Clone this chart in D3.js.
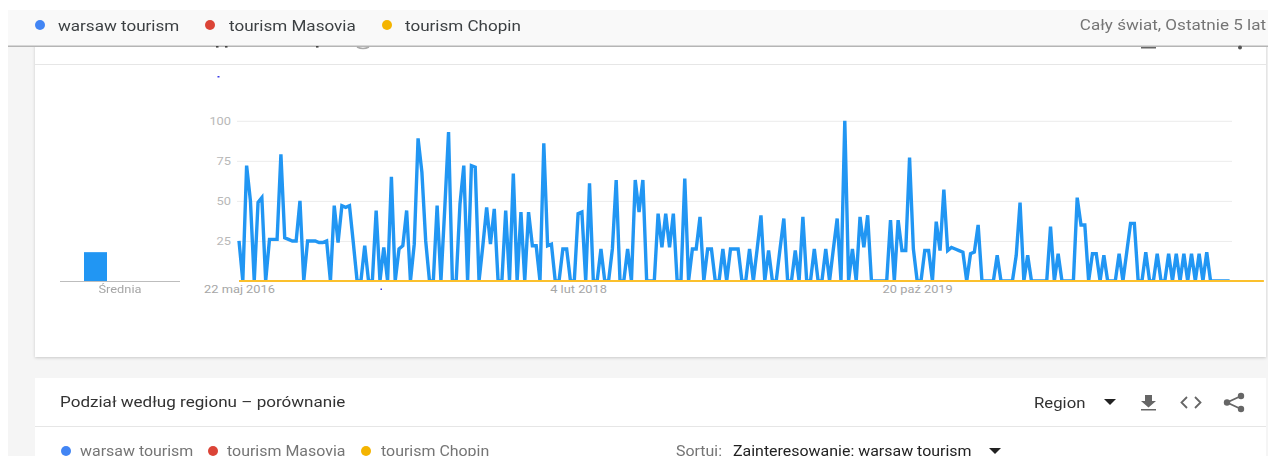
<!DOCTYPE html>
<html><head><meta charset="utf-8">
<script src="https://cdn.jsdelivr.net/npm/d3@7/dist/d3.min.js"></script>
<style>
html,body{margin:0;padding:0;background:#fff;overflow:hidden}
svg{display:block;font-family:Roboto,sans-serif}
</style></head><body><svg id="c" width="1268" height="456"></svg>
<script>
const seriesNames=["warsaw tourism","tourism Masovia","tourism Chopin"];
const seriesColors=["#4285f4","#db4437","#f4b400"];
const warsaw=[25,0,72,50,0,49,52,0,26,26,26,79,27,26,25,25,50,0,25,25,25,24,24,25,0,47,24,47,46,47,24,0,0,22,0,0,44,0,21,0,65,0,20,22,44,0,23,89,68,25,0,0,47,0,45,93,0,0,48,72,0,72,71,0,22,46,23,45,0,0,44,0,67,0,43,0,43,22,22,0,86,22,23,0,0,20,20,0,0,42,43,0,61,0,0,20,0,0,20,63,0,0,20,0,63,43,63,0,0,0,42,21,42,21,42,0,0,64,0,20,20,40,0,20,20,0,0,20,0,20,20,20,0,0,20,0,20,41,0,19,0,0,20,39,0,0,19,0,40,0,0,20,0,0,20,0,20,39,0,100,0,20,0,40,21,41,0,0,0,0,0,38,0,38,19,19,77,20,0,0,19,19,0,37,19,57,19,21,20,19,18,0,17,18,35,0,0,0,0,16,0,0,0,0,16,49,0,16,0,0,0,0,0,34,0,17,0,0,0,0,52,35,35,0,17,17,0,16,0,0,0,17,0,18,36,36,0,0,18,0,0,17,0,0,17,0,17,0,17,0,17,0,17,0,18,0,0,0,0,0,0];
const masovia=[0,0,0,0,0,0,0,0,0,0,0,0,0,0,0,0,0,0,0,0,0,0,0,0,0,0,0,0,0,0,0,0,0,0,0,0,0,0,0,0,0,0,0,0,0,0,0,0,0,0,0,0,0,0,0,0,0,0,0,0,0,0,0,0,0,0,0,0,0,0,0,0,0,0,0,0,0,0,0,0,0,0,0,0,0,0,0,0,0,0,0,0,0,0,0,0,0,0,0,0,0,0,0,0,0,0,0,0,0,0,0,0,0,0,0,0,0,0,0,0,0,0,0,0,0,0,0,0,0,0,0,0,0,0,0,0,0,0,0,0,0,0,0,0,0,0,0,0,0,0,0,0,0,0,0,0,0,0,0,0,0,0,0,0,0,0,0,0,0,0,0,0,0,0,0,0,0,0,0,0,0,0,0,0,0,0,0,0,0,0,0,0,0,0,0,0,0,0,0,0,0,0,0,0,0,0,0,0,0,0,0,0,0,0,0,0,0,0,0,0,0,0,0,0,0,0,0,0,0,0,0,0,0,0,0,0,0,0,0,0,0,0,0,0,0,0,0,0,0,0,0,0,0,0,0,0,0,0,0,0,0,0,0,0,0];
const chopin=[0,0,0,0,0,0,0,0,0,0,0,0,0,0,0,0,0,0,0,0,0,0,0,0,0,0,0,0,0,0,0,0,0,0,0,0,0,0,0,0,0,0,0,0,0,0,0,0,0,0,0,0,0,0,0,0,0,0,0,0,0,0,0,0,0,0,0,0,0,0,0,0,0,0,0,0,0,0,0,0,0,0,0,0,0,0,0,0,0,0,0,0,0,0,0,0,0,0,0,0,0,0,0,0,0,0,0,0,0,0,0,0,0,0,0,0,0,0,0,0,0,0,0,0,0,0,0,0,0,0,0,0,0,0,0,0,0,0,0,0,0,0,0,0,0,0,0,0,0,0,0,0,0,0,0,0,0,0,0,0,0,0,0,0,0,0,0,0,0,0,0,0,0,0,0,0,0,0,0,0,0,0,0,0,0,0,0,0,0,0,0,0,0,0,0,0,0,0,0,0,0,0,0,0,0,0,0,0,0,0,0,0,0,0,0,0,0,0,0,0,0,0,0,0,0,0,0,0,0,0,0,0,0,0,0,0,0,0,0,0,0,0,0,0,0,0,0,0,0,0,0,0,0,0,0,0,0,0,0,0,0,0,0,0,0,0,0,0,0,0];
const averages=[18,0,0];
const averageLabel="Średnia";
const yTicks=[25,50,75,100];
const xTickIndex=[0,89,178];
const xTickLabels=["22 maj 2016","4 lut 2018","20 paź 2019"];

const svg=d3.select("#c");
const root=svg.append("g").style("filter","blur(0.35px)");
const R=(x,y,w,h,f,p=root)=>p.append("rect").attr("x",x).attr("y",y).attr("width",w).attr("height",h).attr("fill",f);
const T=(s,x,y,size,col,anchor="start",p=root)=>p.append("text").text(s).attr("x",x).attr("y",y).attr("font-size",size).attr("fill",col).attr("text-anchor",anchor);

// page + cards
R(8,10,1260,446,"#f5f5f5");
const defs=svg.append("defs");
const sh=defs.append("filter").attr("id","sh").attr("x","-2%").attr("y","-5%").attr("width","104%").attr("height","110%");
sh.append("feDropShadow").attr("dx",0).attr("dy",1).attr("stdDeviation",1.5).attr("flood-color","#000").attr("flood-opacity",.18);
defs.append("clipPath").attr("id","plot").append("rect").attr("x",230).attr("y",100).attr("width",1010).attr("height",180.6);
R(35,40,1231,317,"#fff").attr("filter","url(#sh)");
R(35,378,1231,78,"#fff");
R(35,64,1231,1,"#e6e6e6");
R(35,426,1231,1,"#e6e6e6");

// main chart
const x=d3.scaleLinear().domain([0,warsaw.length-1]).range([239,1229.6]);
const y=d3.scaleLinear().domain([0,100]).range([281,120.8]);
const gy=root.append("g").attr("transform","translate(237,0)")
  .call(d3.axisLeft(y).tickValues(yTicks).tickSize(-995).tickPadding(6));
gy.select(".domain").remove();
gy.selectAll("line").attr("stroke","#ececec");
gy.selectAll("text").attr("font-size",11.5).attr("font-family","Roboto,sans-serif").attr("fill","#b8b8b8");
const gx=root.append("g").attr("transform","translate(0,281)")
  .call(d3.axisBottom(x).tickValues(xTickIndex).tickFormat((d,i)=>xTickLabels[i]).tickSize(0).tickPadding(4));
gx.select(".domain").remove();
gx.selectAll("text").attr("font-size",11.5).attr("font-family","Roboto,sans-serif").attr("fill","#a6a6a6");

const line=d3.line().x((d,i)=>x(i)).y(d=>y(d));
R(1229,280.5,3,1,"#cfcfcf");
root.append("path").datum(warsaw).attr("d",line).attr("fill","none").attr("stroke","#2196f3").attr("stroke-width",3.4).attr("stroke-linejoin","miter").attr("clip-path","url(#plot)");
root.append("path").datum(masovia).attr("d",line).attr("fill","none").attr("stroke","#db4437").attr("stroke-width",2);
root.append("path").datum(chopin).attr("d",line).attr("fill","none").attr("stroke","#fbc02d").attr("stroke-width",2.2);

// average bar
const bx=d3.scaleBand().domain(seriesNames).range([84,156]);
const bars=root.append("g");
bars.selectAll("rect").data(averages).join("rect")
  .attr("x",(d,i)=>bx(seriesNames[i])).attr("width",bx.bandwidth()-1)
  .attr("y",d=>y(d)).attr("height",d=>y(0)-y(d)).attr("fill","#2196f3");
R(60,281,120,1,"#bdbdbd");
T(averageLabel,120,293,11.5,"#a6a6a6","middle");

// sticky header
R(8,10,1260,36,"#f9f9f9");
R(8,45.5,1260,1.5,"#b5b5b5");
const topDots=[40,210,387], topText=[58,229,405];
seriesNames.forEach((n,i)=>{
  root.append("circle").attr("cx",topDots[i]).attr("cy",25).attr("r",5).attr("fill",seriesColors[i]);
  T(n,topText[i],30.5,15.3,"#3c4043");
});
T("Cały świat, Ostatnie 5 lat",1266,30,15.3,"#757575","end");

// clipped title/icon fragments under the header
[[216,2.5],[225,2.5],[316,2.5]].forEach(d=>R(d[0],46,d[1],1.6,"#444"));
root.append("path").attr("d","M357 47 Q363 50 369 47").attr("fill","none").attr("stroke","#aaa").attr("stroke-width",1.5);
R(1141,47,15,1.5,"#666");
root.append("circle").attr("cx",1240).attr("cy",47.5).attr("r",2).attr("fill","#555");
// stray specks
R(217.5,76,2,1.5,"#3a3ae8");
R(380.5,288.5,1.5,1.5,"#3a3ae8");

// second card
T("Podział według regionu – porównanie",60,407,15.3,"#333");
T("Region",1034,407.5,15,"#333");
const caret=(cx,cy)=>root.append("path").attr("d",`M${cx-6} ${cy-3}h12l-6 6z`).attr("fill","#222");
caret(1110,402);
root.append("path").attr("d","M1145 395h7v6h4l-7.5 6.5L1141 401h4z M1141 409h15v1.5h-15z").attr("fill","#666");
root.append("path").attr("d","M1187 397l-5.5 5.5 5.5 5.5 M1195 397l5.5 5.5-5.5 5.5").attr("fill","none").attr("stroke","#666").attr("stroke-width",1.8);
root.append("path").attr("d","M1241 396L1227 402.5L1241 409").attr("fill","none").attr("stroke","#666").attr("stroke-width",1.8);
[[1241,396],[1227,402.5],[1241,409]].forEach(d=>root.append("circle").attr("cx",d[0]).attr("cy",d[1]).attr("r",3.2).attr("fill","#666"));

const lowDots=[66,213,366], lowText=[80,227,381];
seriesNames.forEach((n,i)=>{
  root.append("circle").attr("cx",lowDots[i]).attr("cy",451).attr("r",5).attr("fill",seriesColors[i]);
  T(n,lowText[i],455.5,14.3,"#757575");
});
T("Sortuj:",676,455.5,14.3,"#757575");
T("Zainteresowanie: warsaw tourism",733,455.5,14.3,"#222");
caret(995,451);

// the reference is stretched horizontally: widen every text the same way
document.fonts.ready.then(()=>{
  root.selectAll("text").each(function(){
    const len=this.getComputedTextLength();
    d3.select(this).attr("textLength",len*1.115).attr("lengthAdjust","spacingAndGlyphs");
  });
});
</script></body></html>
